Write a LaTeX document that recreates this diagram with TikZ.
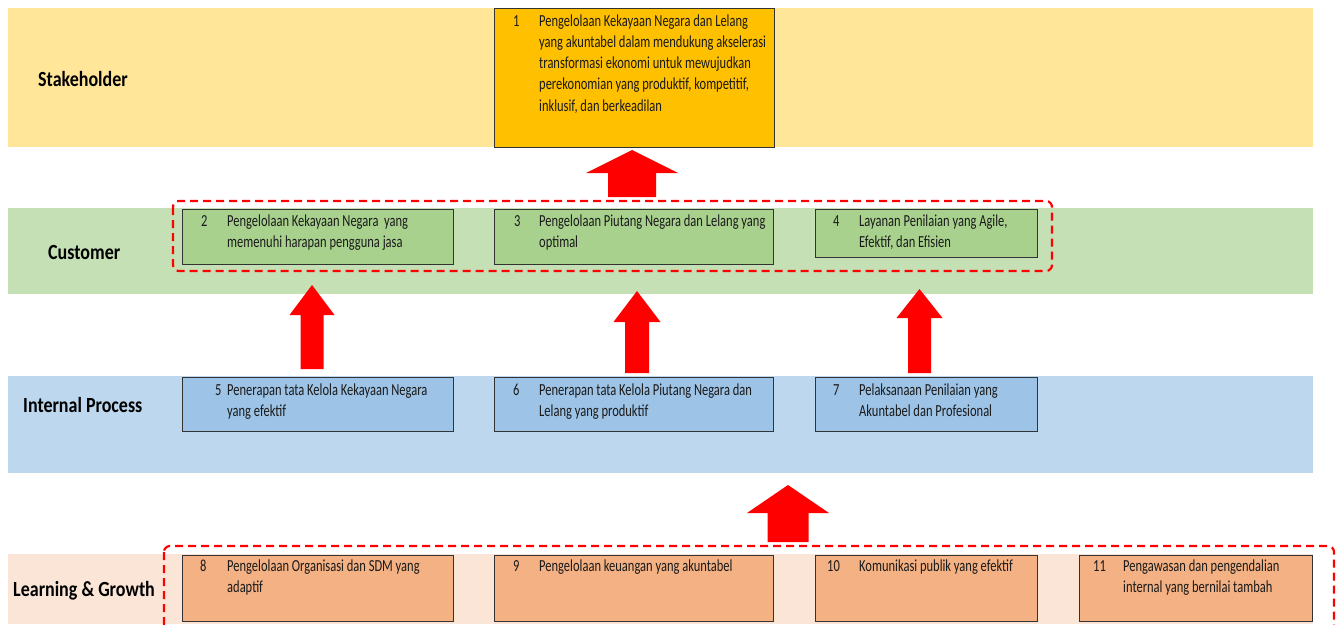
\documentclass[tikz,border=0pt]{standalone}
\usepackage{fontspec}
\setmainfont{Carlito}
\usepackage{graphicx}
\definecolor{stakeband}{HTML}{FFE699}
\definecolor{stakebox}{HTML}{FFC000}
\definecolor{custband}{HTML}{C5E0B4}
\definecolor{custbox}{HTML}{A9D18E}
\definecolor{intband}{HTML}{BDD7EE}
\definecolor{intbox}{HTML}{9DC3E6}
\definecolor{learnband}{HTML}{FBE5D6}
\definecolor{learnbox}{HTML}{F4B183}
\definecolor{boxline}{HTML}{333333}
\definecolor{txtcol}{HTML}{1A1A1A}
\newcommand\boxfont{\fontsize{12.5}{15.8}\selectfont}
\newcommand\lblfont{\fontsize{18}{22}\selectfont\bfseries}
\newcommand\bt[1]{\scalebox{1}[1.35]{\begin{tabular}[t]{@{}l@{}}#1\end{tabular}}}
\newcommand\bl[1]{\scalebox{1}[1.2]{#1}}
\newcommand\uparr[6]{\fill[bigarrow] (#1,#2) -- (#1+#4,#3) -- (#1+#5,#3) -- (#1+#5,#6) -- (#1-#5,#6) -- (#1-#5,#3) -- (#1-#4,#3) -- cycle;}
\tikzset{
  band/.style={fill=#1, draw=none},
  goal/.style={draw=boxline, line width=0.9pt, anchor=north west, inner sep=0pt, fill=#1},
  num/.style={anchor=base west, inner sep=0pt, font=\boxfont, text=txtcol},
  txt/.style={anchor=base west, inner sep=0pt, font=\boxfont, text=txtcol},
  lbl/.style={anchor=base west, inner sep=0pt, font=\lblfont, text=black},
  grp/.style={draw=red, line width=2.2pt, dash pattern=on 8pt off 5pt, rounded corners=6pt},
  bigarrow/.style={fill=red, draw=none}
}
\begin{document}
\begin{tikzpicture}[x=1pt,y=-1pt]
\useasboundingbox (0,0) rectangle (1339,624);
% bands
\fill[band=stakeband] (8,8) rectangle (1313,147);
\fill[band=custband] (8,208) rectangle (1313,294);
\fill[band=intband] (8,376) rectangle (1313,473);
\fill[band=learnband] (8,554) rectangle (1313,624);
% labels
\node[lbl] (lS) at (38,86) {\bl{Stakeholder}};
\node[lbl] (lC) at (48,259) {\bl{Customer}};
\node[lbl] (lI) at (23,412) {\bl{Internal Process}};
\node[lbl] (lL) at (13,596) {\bl{Learning \& Growth}};
% dashed groups
\draw[grp] (173,201) rectangle (1052,271);
\draw[grp] (164,546) rectangle (1334,660);
% boxes
\node[goal=stakebox, minimum width=280pt, minimum height=139pt] (g1) at (494,8) {};
\node[goal=custbox, minimum width=271pt, minimum height=55pt] (g2) at (182,209) {};
\node[goal=custbox, minimum width=279pt, minimum height=55pt] (g3) at (494,209) {};
\node[goal=custbox, minimum width=222pt, minimum height=48pt] (g4) at (815,209) {};
\node[goal=intbox, minimum width=271pt, minimum height=54pt] (g5) at (182,377) {};
\node[goal=intbox, minimum width=279pt, minimum height=54pt] (g6) at (494,377) {};
\node[goal=intbox, minimum width=222pt, minimum height=54pt] (g7) at (815,377) {};
\node[goal=learnbox, minimum width=271pt, minimum height=66pt] (g8) at (182,555) {};
\node[goal=learnbox, minimum width=279pt, minimum height=66pt] (g9) at (494,555) {};
\node[goal=learnbox, minimum width=222pt, minimum height=66pt] (g10) at (815,555) {};
\node[goal=learnbox, minimum width=233pt, minimum height=66pt] (g11) at (1079,555) {};
% box texts
\node[num] (n1) at (513,26) {\bt{1}};
\node[txt] (t1) at (539,26) {\bt{Pengelolaan Kekayaan Negara dan Lelang\\yang akuntabel dalam mendukung akselerasi\\transformasi ekonomi untuk mewujudkan\\perekonomian yang produktif, kompetitif,\\inklusif, dan berkeadilan}};
\node[num] (n2) at (201,226) {\bt{2}};
\node[txt] (t2) at (227,226) {\bt{Pengelolaan Kekayaan Negara\ \ yang\\memenuhi harapan pengguna jasa}};
\node[num] (n3) at (514,226) {\bt{3}};
\node[txt] (t3) at (539,226) {\bt{Pengelolaan Piutang Negara dan Lelang yang\\optimal}};
\node[num] (n4) at (833,226) {\bt{4}};
\node[txt] (t4) at (859,226) {\bt{Layanan Penilaian yang Agile,\\Efektif, dan Efisien}};
\node[num] (n5) at (215,395) {\bt{5}};
\node[txt] (t5) at (227,395) {\bt{Penerapan tata Kelola Kekayaan Negara\\yang efektif}};
\node[num] (n6) at (513,395) {\bt{6}};
\node[txt] (t6) at (539,395) {\bt{Penerapan tata Kelola Piutang Negara dan\\Lelang yang produktif}};
\node[num] (n7) at (833,395) {\bt{7}};
\node[txt] (t7) at (859,395) {\bt{Pelaksanaan Penilaian yang\\Akuntabel dan Profesional}};
\node[num] (n8) at (200,571) {\bt{8}};
\node[txt] (t8) at (227,571) {\bt{Pengelolaan Organisasi dan SDM yang\\adaptif}};
\node[num] (n9) at (513,571) {\bt{9}};
\node[txt] (t9) at (539,571) {\bt{Pengelolaan keuangan yang akuntabel}};
\node[num] (n10) at (827,571) {\bt{10}};
\node[txt] (t10) at (859,571) {\bt{Komunikasi publik yang efektif}};
\node[num] (n11) at (1093,571) {\bt{11}};
\node[txt] (t11) at (1123,571) {\bt{Pengawasan dan pengendalian\\internal yang bernilai tambah}};
% arrows
\uparr{632}{150}{173}{46}{24}{197}
\uparr{312}{285}{315}{22.5}{11.5}{369}
\uparr{637}{291}{322}{23.5}{12}{373}
\uparr{919.5}{289}{318}{23}{11.5}{373}
\uparr{788}{485}{513}{41}{20.5}{542}
\end{tikzpicture}
\end{document}
